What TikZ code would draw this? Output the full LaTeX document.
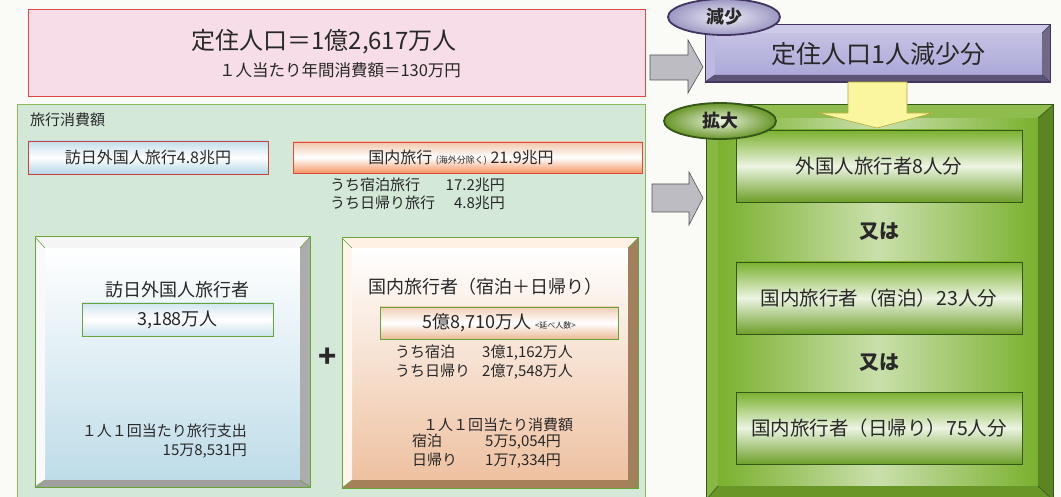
\documentclass[tikz,border=0pt]{standalone}
\usepackage{fontspec}
\setmainfont{Noto Sans CJK JP}
\usepackage{xcolor}
\usepackage{tikz}
\usetikzlibrary{shapes.geometric, arrows.meta, positioning, calc}

\definecolor{paper}{RGB}{250,250,247}
\definecolor{ink}{RGB}{40,40,40}
\definecolor{pinkfill}{RGB}{247,221,231}
\definecolor{redline}{RGB}{222,72,66}
\definecolor{panelfill}{RGB}{211,232,215}
\definecolor{panelline}{RGB}{140,186,92}
\definecolor{skyblue}{RGB}{178,214,228}
\definecolor{peach}{RGB}{236,186,150}
\definecolor{orangefill}{RGB}{242,150,98}
\definecolor{leafline}{RGB}{104,164,58}
\definecolor{lavender}{RGB}{172,168,216}
\definecolor{plumline}{RGB}{66,54,96}
\definecolor{grassgreen}{RGB}{122,176,46}
\definecolor{darkgrass}{RGB}{52,86,22}
\definecolor{paleleaf}{RGB}{236,244,226}
\definecolor{lemon}{RGB}{250,246,160}
\definecolor{arrowgray}{RGB}{188,188,194}

\tikzset{
  box/.style={rectangle, draw, outer sep=0pt, inner sep=0pt, anchor=north west},
  face/.style={rectangle, outer sep=0pt, inner sep=0pt, anchor=north west},
  txt/.style={text=ink, inner sep=0pt},
  bigtxt/.style={txt, font=\fontsize{24}{27}\selectfont},
  midtxt/.style={txt, font=\fontsize{17}{20}\selectfont},
  smalltxt/.style={txt, font=\fontsize{15}{19}\selectfont},
  tag/.style={ellipse, draw, line width=1.8pt, minimum width=112pt, minimum height=36pt,
    inner sep=0pt, font=\bfseries\fontsize{18}{20}\selectfont, text=ink},
  blockarrow/.style={draw=ink!80, line width=0.6pt},
}

% outer, inner, top, right, bottom, left, border
\newcommand{\bevelsides}[7]{%
  \fill[#3] (#1.north west) -- (#1.north east) -- (#2.north east) -- (#2.north west) -- cycle;
  \fill[#4] (#1.north east) -- (#1.south east) -- (#2.south east) -- (#2.north east) -- cycle;
  \fill[#5] (#1.south east) -- (#1.south west) -- (#2.south west) -- (#2.south east) -- cycle;
  \fill[#6] (#1.south west) -- (#1.north west) -- (#2.north west) -- (#2.south west) -- cycle;
  \draw[#7, line width=0.6pt] (#1.north west) -- (#2.north west) (#1.north east) -- (#2.north east)
    (#1.south east) -- (#2.south east) (#1.south west) -- (#2.south west);
  \draw[#7, line width=1pt] (#1.north west) rectangle (#1.south east);
}

\begin{document}
\begin{tikzpicture}[x=1pt, y=-1pt]
  \useasboundingbox (0,0) rectangle (1061,497);
  \fill[paper] (0,0) rectangle (1061,497);

  % resident population
  \node[box, draw=redline, fill=pinkfill, line width=1pt, minimum width=617pt, minimum height=87pt] (resident) at (28,10) {};
  \node[bigtxt] (popline) at (324,42) {定住人口＝1億2,617万人};
  \node[smalltxt, font=\fontsize{16.5}{19}\selectfont] (spend) at (340,70) {１人当たり年間消費額＝130万円};

  % travel spending panel
  \node[box, draw=panelline, fill=panelfill, line width=1pt, minimum width=628pt, minimum height=395pt] (panel) at (17,105) {};
  \node[smalltxt, anchor=west] (paneltitle) at (30,120) {旅行消費額};
  \node[box, draw=redline!90!black, line width=0.8pt, top color=skyblue!80, bottom color=skyblue, middle color=white,
    minimum width=240pt, minimum height=33pt] (inboundsum) at (28,141) {};
  \node[midtxt, font=\fontsize{16}{19}\selectfont] at (inboundsum.center) {訪日外国人旅行4.8兆円};
  \node[box, draw=redline, line width=0.8pt, top color=peach!80, bottom color=orangefill, middle color=white,
    minimum width=349pt, minimum height=31pt] (domesticsum) at (293,142) {};
  \node[midtxt, font=\fontsize{16}{19}\selectfont] at (461,158)
    {国内旅行 {\fontsize{9}{10}\selectfont (海外分除く)} 21.9兆円};
  \node[smalltxt, anchor=north west] (domesticsplit) at (330,177)
    {\begin{tabular}{@{}l@{\hspace{0.7em}}r@{}}うち宿泊旅行 & 17.2兆円\\[-1pt] うち日帰り旅行 & 4.8兆円\end{tabular}};

  % inbound travellers
  \node[box, draw=leafline, minimum width=275pt, minimum height=250pt] (inbound) at (35,237) {};
  \node[face, top color=white, bottom color=skyblue!85, minimum width=255pt, minimum height=232pt] (inboundface) at (45,248) {};
  \bevelsides{inbound}{inboundface}{white!92!gray}{gray!65}{gray!75}{white!95!gray}{leafline}
  \node[midtxt, font=\fontsize{18}{21}\selectfont] (inboundtitle) at (177,290) {訪日外国人旅行者};
  \node[box, draw=leafline, line width=0.8pt, top color=skyblue!60, bottom color=skyblue!70, middle color=white,
    minimum width=191pt, minimum height=33pt] (inboundcount) at (82,303) {};
  \node[midtxt, font=\fontsize{18}{21}\selectfont] at (inboundcount.center) {3,188万人};
  \node[smalltxt, align=right, anchor=east] (inboundspend) at (247,441) {１人１回当たり旅行支出\\15万8,531円};

  \node[txt, font=\bfseries\fontsize{30}{30}\selectfont] (plus) at (328,358) {+};

  % domestic travellers
  \node[box, draw=leafline, minimum width=296pt, minimum height=250pt] (domestic) at (342,238) {};
  \node[face, top color=white, bottom color=peach!90, minimum width=276pt, minimum height=232pt] (domesticface) at (352,248) {};
  \bevelsides{domestic}{domesticface}{white!90!orange}{brown!55!gray}{brown!60!gray}{white!92!orange}{leafline}
  \node[midtxt, font=\fontsize{18}{21}\selectfont] (domestictitle) at (485,287) {国内旅行者（宿泊＋日帰り）};
  \node[box, draw=leafline, line width=0.8pt, top color=peach!70, bottom color=peach, middle color=white,
    minimum width=238pt, minimum height=32pt] (domesticcount) at (380,307) {};
  \node[midtxt, font=\fontsize{18}{21}\selectfont] at (499,323) {5億8,710万人 {\fontsize{8}{9}\selectfont <延べ人数>}};
  \node[smalltxt, font=\fontsize{15}{19}\selectfont, anchor=north west, align=left] (domesticsplit2) at (395,345)
    {\makebox[87pt][l]{うち宿泊}3億1,162万人\\\makebox[87pt][l]{うち日帰り}2億7,548万人};
  \node[smalltxt] (domesticunit) at (498,425) {１人１回当たり消費額};
  \node[smalltxt, anchor=north west, align=left] (domesticspend) at (412,434)
    {\makebox[73pt][l]{宿泊}5万5,054円\\\makebox[73pt][l]{日帰り}1万7,334円};

  % arrows into the right column
  \filldraw[blockarrow, fill=arrowgray] (650,55) -- (688,55) -- (688,40) -- (703,67) -- (688,93) -- (688,80) -- (650,80) -- cycle;
  \filldraw[blockarrow, fill=arrowgray] (652,184) -- (689,184) -- (689,172) -- (703,198) -- (689,225) -- (689,212) -- (652,212) -- cycle;

  % decrease
  \node[box, draw=plumline, minimum width=345pt, minimum height=57pt] (decrease) at (705,25) {};
  \node[face, top color=lavender!70, bottom color=lavender, minimum width=327pt, minimum height=42pt] (decreaseface) at (715,33) {};
  \bevelsides{decrease}{decreaseface}{lavender!60}{plumline!75}{plumline!85}{lavender!80}{plumline}
  \node[txt, font=\fontsize{25}{28}\selectfont] at (decreaseface.center) {定住人口1人減少分};
  \node[tag, draw=plumline, inner color=white!80!lavender, outer color=lavender!90!black] (decreasetag) at (724,17) {減少};

  % increase
  \node[box, draw=darkgrass, minimum width=347pt, minimum height=395pt] (increase) at (706,105) {};
  \node[face, left color=grassgreen, right color=grassgreen, middle color=paleleaf!70!grassgreen,
    minimum width=320pt, minimum height=368pt] (increaseface) at (718,118) {};
  \bevelsides{increase}{increaseface}{grassgreen!85!white}{grassgreen!75!black}{grassgreen!85!black}{grassgreen!90!white}{darkgrass}
  \foreach \y/\name/\label in {130/optA/外国人旅行者8人分, 262/optB/国内旅行者（宿泊）23人分, 392/optC/国内旅行者（日帰り）75人分} {
    \node[box, draw=darkgrass, line width=0.8pt, top color=grassgreen, bottom color=grassgreen!90!black, middle color=paleleaf,
      minimum width=286pt, minimum height=72pt] (\name) at (736,\y) {};
    \node[txt, font=\fontsize{19.5}{22}\selectfont] at (\name.center) {\label};
  }
  \node[txt, font=\bfseries\fontsize{20}{22}\selectfont] (orA) at ($(optA.south)!0.5!(optB.north)$) {又は};
  \node[txt, font=\bfseries\fontsize{20}{22}\selectfont] (orB) at ($(optB.south)!0.5!(optC.north)$) {又は};

  \filldraw[draw=olive!70, line width=0.6pt, fill=lemon] (848,82) -- (907,82) -- (907,113) -- (933,113) -- (877,128) -- (818,113) -- (848,113) -- cycle;
  \node[tag, draw=darkgrass, inner color=paleleaf, outer color=grassgreen!85!black] (increasetag) at (720,121) {拡大};
\end{tikzpicture}
\end{document}
